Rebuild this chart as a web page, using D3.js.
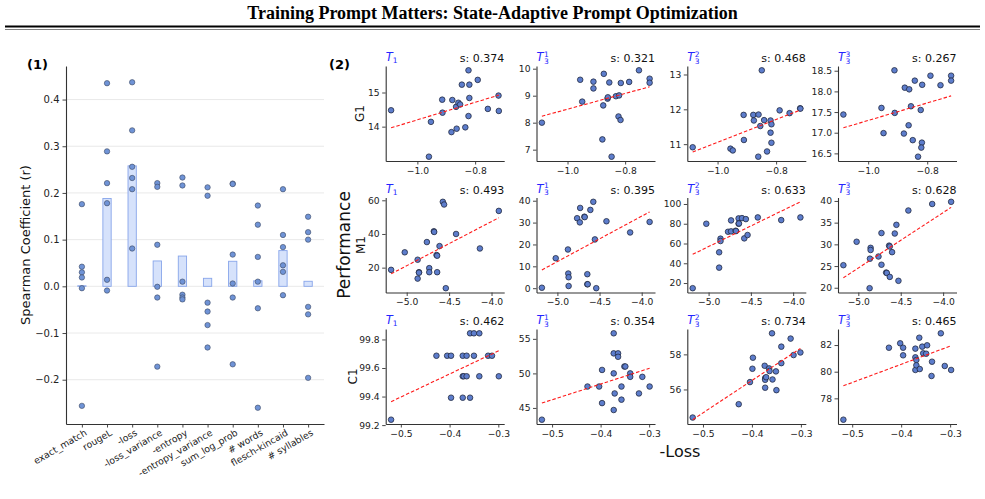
<!DOCTYPE html>
<html>
<head>
<meta charset="utf-8">
<script src="https://cdn.jsdelivr.net/npm/d3@7"></script>
<style>
  body { margin: 0; background: #fff; }
  text { font-family: "DejaVu Sans", sans-serif; }
  text.title { font-family: "Liberation Serif", "Times New Roman", serif; }
</style>
</head>
<body>
<div id="chart"></div>
<script>
// ---------- data: panel (1) ----------
const metrics = ["exact_match", "rougeL", "-loss", "-loss_variance", "-entropy",
  "-entropy_variance", "sum_log_prob", "# words", "flesch-kincaid", "# syllables"];
const exactMatchR = [0.176, 0.042, 0.030, 0.019, -0.004, -0.256];
const rougeLR = [0.435, 0.289, 0.221, 0.178, 0.014, -0.009];
const lossR = [0.437, 0.334, 0.256, 0.232, 0.208, 0.081];
const lossVarR = [0.221, 0.213, 0.089, -0.001, -0.024, -0.172];
const entropyR = [0.233, 0.216, 0.010, -0.018, -0.024, -0.028];
const entropyVarR = [0.212, 0.194, -0.035, -0.054, -0.083, -0.131];
const sumLogProbR = [0.220, 0.219, 0.068, 0.006, -0.024, -0.167];
const wordsR = [0.173, 0.132, 0.063, 0.010, -0.047, -0.260];
const fleschR = [0.208, 0.110, 0.084, 0.045, 0.031, -0.019];
const syllablesR = [0.149, 0.116, 0.100, -0.044, -0.060, -0.196];
const leftYTicks = [-0.2, -0.1, 0.0, 0.1, 0.2, 0.3, 0.4];

// ---------- data: panel (2) ----------
const datasets = ["G1", "M1", "C1"];
const prompts = [{ sub: "1", sup: null }, { sub: "3", sup: "1" }, { sub: "3", sup: "2" }, { sub: "3", sup: "3" }];
const sScores = [[0.374, 0.321, 0.468, 0.267], [0.493, 0.395, 0.633, 0.628], [0.462, 0.354, 0.734, 0.465]];
const rowXTicks = [[-1.0, -0.8], [-5.0, -4.5, -4.0], [-0.5, -0.4, -0.3]];
const yTicks = [
  [[14, 15], [7, 8, 9, 10], [11, 12, 13], [16.5, 17.0, 17.5, 18.0, 18.5]],
  [[20, 40, 60], [0, 10, 20, 30, 40], [20, 40, 60, 80, 100], [20, 25, 30, 35, 40]],
  [[99.2, 99.4, 99.6, 99.8], [45, 50, 55], [56, 58], [78, 80, 82]]
];
const yFormats = [[",d", ",d", ",d", ".1f"], [",d", ",d", ",d", ",d"], [".1f", ",d", ",d", ",d"]];

// G1
const g1T1x = [-1.091, -0.960, -0.953, -0.914, -0.913, -0.882, -0.879, -0.866, -0.864, -0.858, -0.852, -0.846, -0.834, -0.823, -0.823, -0.820, -0.820, -0.791, -0.756, -0.719, -0.718];
const g1T1y = [14.48, 13.12, 14.14, 14.79, 14.41, 13.84, 14.78, 14.58, 13.94, 14.70, 14.65, 15.23, 13.98, 15.65, 14.31, 15.23, 14.84, 15.37, 14.52, 14.91, 14.46];
const g1T31x = [-1.089, -0.956, -0.949, -0.910, -0.910, -0.879, -0.876, -0.874, -0.861, -0.860, -0.855, -0.847, -0.832, -0.821, -0.823, -0.816, -0.815, -0.786, -0.752, -0.715, -0.715];
const g1T31y = [8.00, 9.59, 8.78, 9.52, 9.27, 7.38, 8.64, 9.81, 8.89, 8.94, 9.49, 6.74, 8.98, 9.01, 8.23, 8.10, 9.47, 9.51, 9.94, 9.63, 9.48];
const g1T32x = [-1.085, -0.956, -0.948, -0.911, -0.910, -0.878, -0.876, -0.860, -0.854, -0.861, -0.849, -0.841, -0.831, -0.819, -0.819, -0.816, -0.816, -0.788, -0.754, -0.718, -0.717];
const g1T32y = [10.91, 10.87, 10.82, 11.84, 11.12, 11.84, 11.68, 11.85, 11.52, 10.64, 13.12, 11.69, 10.79, 11.68, 11.33, 11.57, 11.04, 11.97, 11.89, 12.03, 12.02];
const g1T33x = [-1.084, -0.955, -0.948, -0.911, -0.910, -0.879, -0.876, -0.861, -0.863, -0.855, -0.849, -0.842, -0.831, -0.822, -0.817, -0.818, -0.820, -0.789, -0.755, -0.719, -0.719];
const g1T33y = [17.44, 17.60, 16.99, 18.51, 17.48, 16.98, 18.09, 18.05, 17.18, 17.64, 16.82, 18.26, 16.42, 17.55, 18.16, 16.76, 16.64, 18.38, 18.15, 18.38, 18.26];
// M1
const m1T1x = [-5.184, -5.023, -4.871, -4.871, -4.855, -4.855, -4.762, -4.734, -4.734, -4.680, -4.676, -4.648, -4.641, -4.641, -4.613, -4.574, -4.559, -4.539, -4.418, -4.137, -3.914];
const m1T1y = [18.7, 29.1, 24.7, 13.5, 17.3, 17.0, 35.2, 19.7, 17.3, 41.6, 41.2, 27.5, 27.1, 17.3, 32.8, 59.1, 57.5, 7.8, 40.0, 31.4, 53.7];
const m1T31x = [-5.184, -5.020, -4.875, -4.871, -4.867, -4.867, -4.766, -4.734, -4.730, -4.680, -4.676, -4.645, -4.645, -4.641, -4.609, -4.574, -4.555, -4.539, -4.418, -4.137, -3.906];
const m1T31y = [0.2, 13.7, 17.7, 6.7, 5.0, 1.0, 32.0, 30.1, 36.7, 32.7, 32.5, 6.4, 1.8, 1.8, 35.8, 39.5, 22.3, 0.0, 30.6, 25.5, 30.3];
const m1T32x = [-5.188, -5.027, -4.875, -4.875, -4.859, -4.859, -4.770, -4.734, -4.734, -4.680, -4.676, -4.645, -4.645, -4.641, -4.605, -4.578, -4.559, -4.539, -4.418, -4.141, -3.914];
const m1T32y = [14.8, 80.0, 51.1, 35.6, 64.9, 62.5, 71.9, 83.4, 72.3, 72.9, 72.6, 85.4, 80.0, 80.3, 85.7, 65.2, 84.7, 68.6, 86.4, 83.7, 86.4];
const m1T33x = [-5.176, -5.020, -4.867, -4.863, -4.855, -4.855, -4.762, -4.727, -4.727, -4.672, -4.664, -4.637, -4.629, -4.629, -4.602, -4.570, -4.551, -4.527, -4.410, -4.129, -3.906];
const m1T33y = [25.2, 30.6, 19.9, 26.7, 29.2, 28.7, 27.2, 32.6, 25.3, 23.5, 23.4, 29.7, 29.5, 22.5, 28.2, 32.5, 34.5, 21.6, 37.8, 39.3, 39.8];
// C1
const c1T1x = [-0.520, -0.427, -0.405, -0.397, -0.397, -0.373, -0.373, -0.373, -0.371, -0.365, -0.365, -0.358, -0.358, -0.350, -0.350, -0.339, -0.339, -0.321, -0.313, -0.299];
const c1T1y = [99.238, 99.686, 99.686, 99.686, 99.392, 99.686, 99.542, 99.392, 99.542, 99.686, 99.542, 99.843, 99.392, 99.843, 99.686, 99.843, 99.542, 99.686, 99.686, 99.542];
const c1T31x = [-0.521, -0.427, -0.403, -0.397, -0.397, -0.373, -0.373, -0.373, -0.371, -0.373, -0.364, -0.364, -0.357, -0.357, -0.351, -0.349, -0.339, -0.339, -0.321, -0.314, -0.299];
const c1T31y = [43.3, 48.1, 48.1, 50.5, 45.7, 55.8, 52.9, 50.0, 47.1, 44.7, 52.9, 52.4, 48.1, 46.2, 51.0, 51.0, 50.0, 49.5, 47.1, 49.5, 48.1];
const c1T32x = [-0.521, -0.427, -0.404, -0.399, -0.398, -0.374, -0.373, -0.373, -0.373, -0.371, -0.365, -0.364, -0.359, -0.358, -0.350, -0.351, -0.340, -0.340, -0.321, -0.315, -0.301];
const c1T32y = [54.40, 55.16, 56.42, 57.18, 57.81, 57.35, 56.65, 56.55, 56.10, 56.70, 57.20, 57.05, 59.20, 56.57, 55.96, 57.03, 58.44, 57.50, 58.90, 57.96, 58.11];
const c1T33x = [-0.518, -0.425, -0.402, -0.396, -0.396, -0.371, -0.371, -0.371, -0.369, -0.369, -0.363, -0.362, -0.357, -0.355, -0.349, -0.347, -0.337, -0.338, -0.319, -0.311, -0.298];
const c1T33y = [76.40, 81.80, 82.13, 81.80, 81.23, 81.73, 81.08, 80.13, 80.88, 80.48, 82.55, 80.20, 81.88, 81.38, 81.35, 81.98, 80.75, 79.68, 82.88, 80.43, 80.13];

const spearman = [exactMatchR, rougeLR, lossR, lossVarR, entropyR, entropyVarR, sumLogProbR, wordsR, fleschR, syllablesR];
const panels = [
  [[g1T1x, g1T1y], [g1T31x, g1T31y], [g1T32x, g1T32y], [g1T33x, g1T33y]],
  [[m1T1x, m1T1y], [m1T31x, m1T31y], [m1T32x, m1T32y], [m1T33x, m1T33y]],
  [[c1T1x, c1T1y], [c1T31x, c1T31y], [c1T32x, c1T32y], [c1T33x, c1T33y]]
];

// ---------- layout ----------
const width = 985, height = 499;
const svg = d3.select("#chart").append("svg").attr("width", width).attr("height", height);
svg.append("rect").attr("width", width).attr("height", height).attr("fill", "#fff");

const padExtent = ([a, b]) => { const p = (b - a) * 0.05; return [a - p, b + p]; };
const styleAxis = (sel, size) => {
  sel.select(".domain").attr("stroke", "#333").attr("stroke-width", 1.1);
  sel.selectAll(".tick line").attr("stroke", "#333").attr("stroke-width", 0.9);
  sel.selectAll(".tick text").attr("font-size", size).attr("fill", "#222").attr("font-family", "DejaVu Sans");
};

// title + rule
svg.append("text").attr("class", "title").attr("x", width / 2).attr("y", 19).attr("text-anchor", "middle")
  .attr("font-weight", "bold").attr("font-size", 18)
  .text("Training Prompt Matters: State-Adaptive Prompt Optimization");
svg.append("line").attr("x1", 5).attr("x2", 980).attr("y1", 26.5).attr("y2", 26.5).attr("stroke", "#000").attr("stroke-width", 2);
svg.append("line").attr("x1", 5).attr("x2", 980).attr("y1", 29.5).attr("y2", 29.5).attr("stroke", "#000").attr("stroke-width", 0.5);

// ---------- panel (1) ----------
const L = { left: 66, right: 324, top: 66, bottom: 424 };
const xL = d3.scaleLinear().domain([-0.632, metrics.length - 1 + 0.632]).range([L.left, L.right]);
const yL = d3.scaleLinear().domain(padExtent(d3.extent(spearman.flat()))).range([L.bottom, L.top]);
const gL = svg.append("g");

gL.selectAll(".grid").data(leftYTicks).join("line")
  .attr("x1", L.left).attr("x2", L.right).attr("y1", d => yL(d)).attr("y2", d => yL(d))
  .attr("stroke", "#e6e6e6").attr("stroke-width", 0.9);

const barW = 0.33;
gL.selectAll(".bar").data(spearman).join("rect")
  .attr("x", (d, i) => xL(i - barW / 2))
  .attr("width", xL(barW) - xL(0))
  .attr("y", d => yL(Math.max(0, d3.mean(d))))
  .attr("height", d => Math.abs(yL(d3.mean(d)) - yL(0)))
  .attr("fill", "#d6e2fb").attr("stroke", "#88a5ea").attr("stroke-width", 0.9);

spearman.forEach((vals, i) => {
  gL.selectAll(".pt" + i).data(vals).join("circle")
    .attr("cx", xL(i)).attr("cy", d => yL(d)).attr("r", 2.7)
    .attr("fill", "#6f93d6").attr("stroke", "#3a4660").attr("stroke-width", 0.6);
});

const yAxisL = gL.append("g").attr("transform", `translate(${L.left},0)`)
  .call(d3.axisLeft(yL).tickValues(leftYTicks).tickFormat(d3.format(".1f")).tickSize(3.5).tickSizeOuter(0).tickPadding(3));
styleAxis(yAxisL, 10);
const xAxisL = gL.append("g").attr("transform", `translate(0,${L.bottom})`)
  .call(d3.axisBottom(xL).tickValues(d3.range(metrics.length)).tickFormat(i => metrics[i]).tickSize(3.5).tickSizeOuter(0));
styleAxis(xAxisL, 9.3);
xAxisL.selectAll(".tick text")
  .attr("x", 0).attr("y", 0).attr("dy", "0.7em")
  .attr("text-anchor", "end").attr("transform", "translate(2,5) rotate(-30)");

svg.append("text").attr("transform", `translate(30,${(L.top + L.bottom) / 2}) rotate(-90)`)
  .attr("text-anchor", "middle").attr("font-size", 13).attr("fill", "#111")
  .text("Spearman Coefficient (r)");
svg.append("text").attr("x", 27).attr("y", 69).attr("font-size", 13).attr("font-weight", "bold").text("(1)");

// ---------- panel (2) ----------
svg.append("text").attr("x", 329).attr("y", 69).attr("font-size", 13).attr("font-weight", "bold").text("(2)");
const colX = [385.7, 536.5, 687.3, 838];
const rowY = [66, 197.5, 329];
const axW = 118.5, axH = 95;
const rowLabelX = [364, 365, 357];

function fitLine(xs, ys) {
  const mx = d3.mean(xs), my = d3.mean(ys);
  const sxy = d3.sum(xs, (x, i) => (x - mx) * (ys[i] - my));
  const sxx = d3.sum(xs, x => (x - mx) * (x - mx));
  const b = sxy / sxx, a = my - b * mx;
  const [x0, x1] = d3.extent(xs);
  return [[x0, a + b * x0], [x1, a + b * x1]];
}

// italic T with stacked super/subscript, all in one text element
function promptLabel(g, p, x, y) {
  const t = g.append("text").attr("x", x).attr("y", y).attr("fill", "#2424ff").attr("font-size", 11.5);
  t.append("tspan").attr("font-style", "italic").text("T");
  if (p.sup) {
    t.append("tspan").attr("font-size", 7.5).attr("dx", 0.5).attr("dy", -4.5).text(p.sup);
    t.append("tspan").attr("font-size", 7.5).attr("dx", -4.8).attr("dy", 7.2).text(p.sub);
  } else {
    t.append("tspan").attr("font-size", 7.5).attr("dy", 2.3).text(p.sub);
  }
}

panels.forEach((row, r) => {
  row.forEach(([xs, ys], c) => {
    const g = svg.append("g").attr("transform", `translate(${colX[c]},${rowY[r]})`);
    const line = fitLine(xs, ys);
    const x = d3.scaleLinear().domain(padExtent(d3.extent(xs))).range([0, axW]);
    const y = d3.scaleLinear().domain(padExtent(d3.extent(ys.concat(line.map(d => d[1]))))).range([axH, 0]);

    g.selectAll("circle").data(xs).join("circle")
      .attr("cx", d => x(d)).attr("cy", (d, i) => y(ys[i])).attr("r", 2.8)
      .attr("fill", "#5d7dcc").attr("stroke", "#1d2438").attr("stroke-width", 0.75);

    g.append("path").datum(line)
      .attr("d", d3.line().x(d => x(d[0])).y(d => y(d[1])))
      .attr("fill", "none").attr("stroke", "#ff1a1a").attr("stroke-width", 1.1).attr("stroke-dasharray", "3.5,2");

    const ya = g.append("g").call(d3.axisLeft(y).tickValues(yTicks[r][c])
      .tickFormat(d3.format(yFormats[r][c])).tickSize(3.5).tickSizeOuter(0).tickPadding(2.5));
    styleAxis(ya, 9.2);
    const xa = g.append("g").attr("transform", `translate(0,${axH})`)
      .call(d3.axisBottom(x).tickValues(rowXTicks[r]).tickFormat(d3.format(".1f")).tickSize(3.5).tickSizeOuter(0).tickPadding(2.5));
    styleAxis(xa, 9.2);

    promptLabel(g, prompts[c], 0, -5);
    g.append("text").attr("x", axW).attr("y", -4).attr("text-anchor", "end")
      .attr("font-size", 11).attr("fill", "#111").text("s: " + d3.format(".3f")(sScores[r][c]));
  });
  svg.append("text").attr("transform", `translate(${rowLabelX[r]},${rowY[r] + axH / 2}) rotate(-90)`)
    .attr("text-anchor", "middle").attr("font-size", 12).attr("fill", "#111").text(datasets[r]);
});

svg.append("text").attr("transform", "translate(350,245) rotate(-90)")
  .attr("text-anchor", "middle").attr("font-size", 17).attr("fill", "#111").text("Performance");
svg.append("text").attr("x", 680).attr("y", 457).attr("text-anchor", "middle")
  .attr("font-size", 16).attr("fill", "#111").text("-Loss");
</script>
</body>
</html>
